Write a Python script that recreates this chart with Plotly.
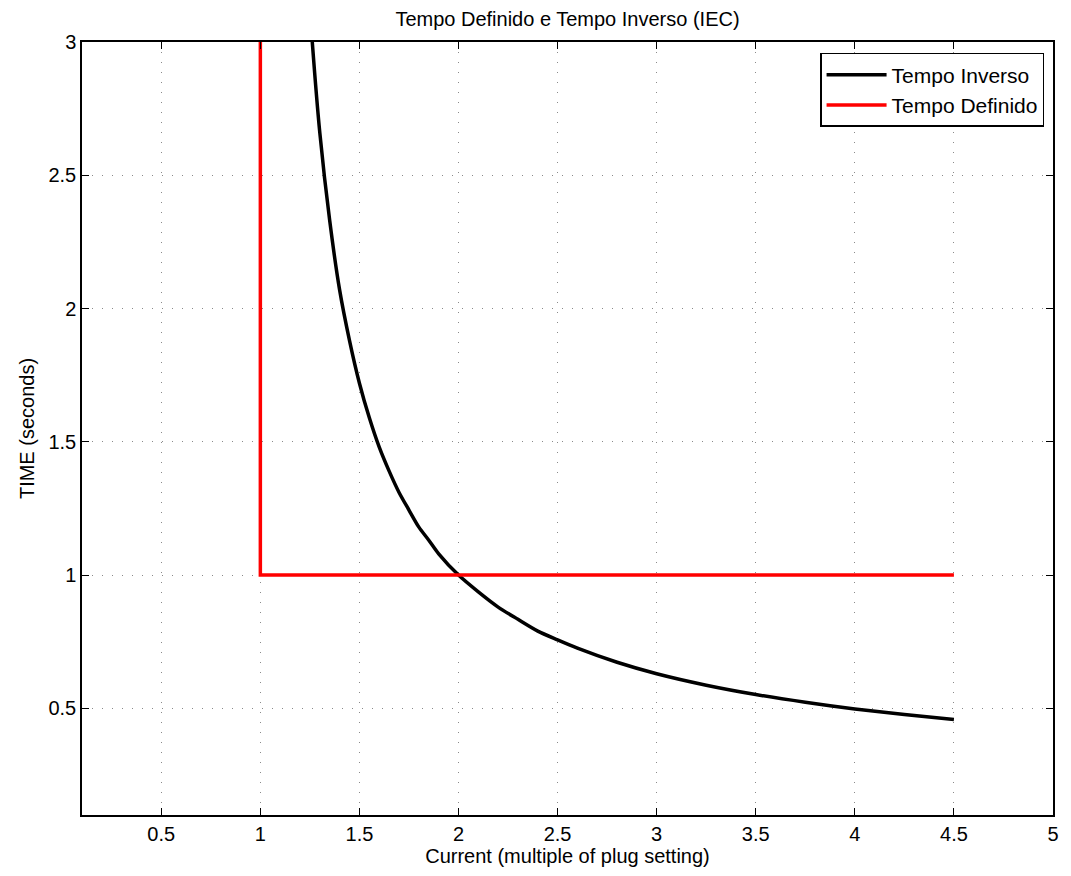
import plotly.graph_objects as go

# Inverse-time curve
inv_current = [1.25, 1.26, 1.3, 1.35, 1.4, 1.45, 1.5, 1.55, 1.6, 1.65, 1.7, 1.75, 1.8,
               1.85, 1.9, 2.0, 2.1, 2.2, 2.3, 2.4, 2.5, 2.6, 2.8, 3.0, 3.25, 3.5,
               3.75, 4.0, 4.25, 4.5]
inv_time = [3.13, 3.02, 2.66, 2.33, 2.07, 1.88, 1.72, 1.59, 1.48, 1.39, 1.31, 1.244, 1.18,
            1.131, 1.08, 1.00, 0.937, 0.88, 0.834, 0.79, 0.757, 0.726, 0.673, 0.630, 0.587,
            0.552, 0.523, 0.498, 0.477, 0.458]

# Definite-time characteristic
def_current = [1.0, 1.0, 4.5]
def_time = [3.0, 1.0, 1.0]

x_ticks = [0.5, 1, 1.5, 2, 2.5, 3, 3.5, 4, 4.5, 5]
y_ticks = [0.5, 1, 1.5, 2, 2.5, 3]

font_family = "Liberation Sans, Arial, sans-serif"

fig = go.Figure()
fig.add_trace(go.Scatter(x=inv_current, y=inv_time, mode="lines", name="Tempo Inverso",
                         line=dict(color="black", width=3.5, shape="spline", smoothing=0.8)))
fig.add_trace(go.Scatter(x=def_current, y=def_time, mode="lines", name="Tempo Definido",
                         line=dict(color="#ff0000", width=3.5)))

axis_common = dict(showline=True, linecolor="black", linewidth=1.5, mirror="ticks",
                   ticks="inside", ticklen=7, tickcolor="black", tickwidth=1,
                   showgrid=True, gridcolor="#8a8a8a", griddash="1px,9px", gridwidth=1,
                   zeroline=False, tickfont=dict(size=20, color="black", family=font_family))

fig.update_xaxes(range=[0.1, 5], tickvals=x_ticks, ticktext=[f"{v:g}" for v in x_ticks],
                 title=dict(text="Current (multiple of plug setting)", standoff=4,
                            font=dict(size=20, color="black", family=font_family)),
                 **axis_common)
fig.update_yaxes(range=[0.1, 3], tickvals=y_ticks, ticktext=[f"{v:g}" for v in y_ticks],
                 title=dict(text="TIME (seconds)", standoff=8,
                            font=dict(size=20, color="black", family=font_family)),
                 **axis_common)

fig.update_layout(
    width=1071, height=876,
    margin=dict(l=82, r=13, t=42, b=61),
    paper_bgcolor="white", plot_bgcolor="white",
    title=dict(text="Tempo Definido e Tempo Inverso (IEC)", x=0.5, xref="paper",
               y=1 - 19 / 876, yanchor="middle",
               font=dict(size=20, color="black", family=font_family)),
    legend=dict(x=0.9908, y=0.9858, xanchor="right", yanchor="top",
                bgcolor="white", bordercolor="black", borderwidth=1.5,
                font=dict(size=21, color="black", family=font_family),
                itemwidth=60, tracegroupgap=0),
    showlegend=True,
)

fig.write_html("out.html")
